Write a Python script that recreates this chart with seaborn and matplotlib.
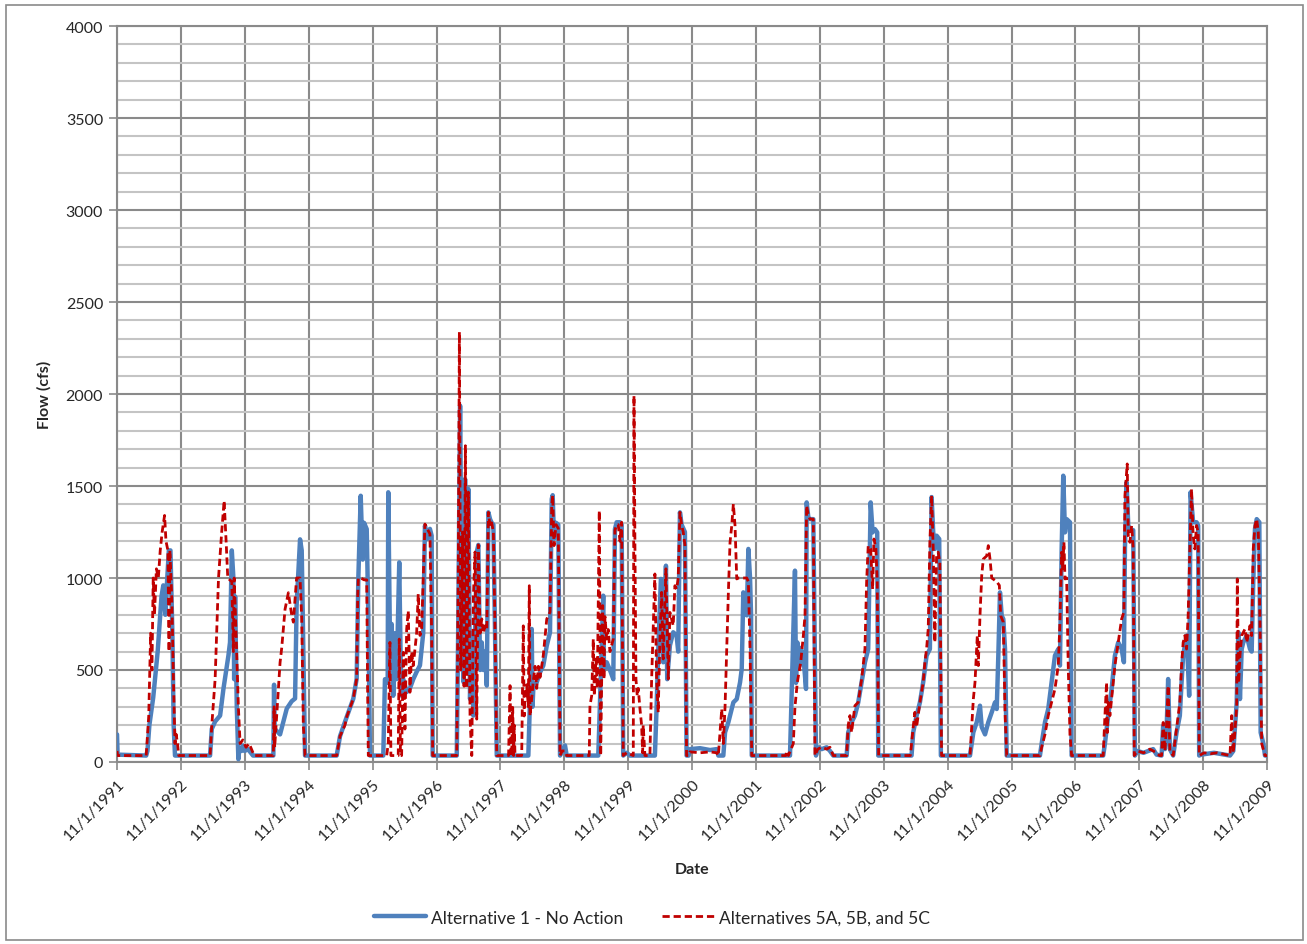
"""
plot.py
-------
Daily flow (cfs), Alternative 1 vs Alternatives 5A/5B/5C, WY1992-WY2009.
Saves the chart to out.png
"""

import numpy as np
import pandas as pd
import matplotlib
matplotlib.use("Agg")
import matplotlib.pyplot as plt
from matplotlib.lines import Line2D
from matplotlib.patches import Rectangle
import seaborn as sns

# ── Config ──────────────────────────────────────────────────────────────────
OUT_PATH  = "out.png"
BLUE      = "#4F81BD"
RED       = "#C00000"
GRID_MAJ  = "#8A8A8A"
GRID_MIN  = "#C4C4C4"

# ── Data (time as decimal year, flow in cfs) ────────────────────────────────
alt1_t = [
    1991.833, 1991.842, 1992.290, 1992.310, 1992.340, 1992.376, 1992.400, 1992.428, 1992.470,
    1992.506, 1992.530, 1992.558, 1992.590, 1992.620, 1992.645, 1992.670, 1992.700, 1992.720,
    1992.741,
    1993.288, 1993.315, 1993.367, 1993.445, 1993.497, 1993.575, 1993.600, 1993.628, 1993.653,
    1993.665, 1993.680, 1993.706, 1993.731, 1993.745, 1993.780, 1993.800, 1993.830, 1993.880,
    1993.960,
    1994.279, 1994.290, 1994.300, 1994.384, 1994.489, 1994.566, 1994.619, 1994.643, 1994.697,
    1994.723, 1994.748, 1994.775,
    1995.271, 1995.323, 1995.428, 1995.531, 1995.584, 1995.610, 1995.647, 1995.678, 1995.699,
    1995.741, 1995.766, 1995.792,
    1996.001, 1996.027, 1996.070, 1996.079, 1996.105, 1996.132, 1996.157, 1996.184, 1996.210,
    1996.251, 1996.273, 1996.288, 1996.314, 1996.367, 1996.418, 1996.470, 1996.523, 1996.575,
    1996.626, 1996.653, 1996.689, 1996.731, 1996.758, 1996.774,
    1997.149, 1997.174, 1997.201, 1997.227, 1997.253, 1997.279, 1997.305, 1997.331, 1997.357,
    1997.384, 1997.409, 1997.435, 1997.462, 1997.487, 1997.514, 1997.540, 1997.565, 1997.592,
    1997.619, 1997.644, 1997.670, 1997.696, 1997.722, 1997.748, 1997.775,
    1998.270, 1998.296, 1998.323, 1998.335, 1998.348, 1998.401, 1998.453, 1998.504, 1998.558,
    1998.609, 1998.636, 1998.651, 1998.672, 1998.703, 1998.739, 1998.766, 1998.800, 1998.844,
    1998.870,
    1999.365, 1999.381, 1999.403, 1999.443, 1999.454, 1999.497, 1999.548, 1999.600, 1999.626,
    1999.653, 1999.705, 1999.731, 1999.756, 1999.810, 1999.861,
    2000.252, 2000.279, 2000.304, 2000.346, 2000.382, 2000.425, 2000.445, 2000.487, 2000.539,
    2000.592, 2000.617, 2000.644, 2000.670, 2000.722, 2000.748, 2000.780, 2000.800,
    2000.957, 2001.113, 2001.218, 2001.243, 2001.321, 2001.348, 2001.400, 2001.478, 2001.531,
    2001.583, 2001.609, 2001.634, 2001.688, 2001.713, 2001.739, 2001.755, 2001.766,
    2002.365, 2002.443, 2002.459, 2002.480, 2002.511, 2002.533, 2002.574, 2002.616, 2002.626,
    2002.652, 2002.678, 2002.730, 2002.772, 2002.800, 2002.861, 2002.939, 2002.991, 2003.043,
    2003.253, 2003.277, 2003.330, 2003.382, 2003.434, 2003.487, 2003.539, 2003.590, 2003.628,
    2003.659, 2003.695, 2003.731, 2003.747,
    2004.269, 2004.295, 2004.348, 2004.400, 2004.451, 2004.504, 2004.556, 2004.583, 2004.608,
    2004.634, 2004.661, 2004.702, 2004.728,
    2005.182, 2005.234, 2005.287, 2005.338, 2005.365, 2005.417, 2005.468, 2005.522, 2005.573,
    2005.600, 2005.625, 2005.651, 2005.678, 2005.703, 2005.730, 2005.756,
    2006.277, 2006.304, 2006.356, 2006.407, 2006.460, 2006.512, 2006.564, 2006.590, 2006.617,
    2006.642, 2006.669, 2006.695, 2006.747, 2006.773,
    2007.268, 2007.295, 2007.346, 2007.400, 2007.451, 2007.503, 2007.556, 2007.592, 2007.608,
    2007.634, 2007.660, 2007.686, 2007.738, 2007.764, 2007.800, 2007.900, 2008.050, 2008.104,
    2008.182, 2008.207, 2008.234, 2008.260, 2008.285, 2008.312, 2008.364, 2008.417, 2008.468,
    2008.495, 2008.520, 2008.573, 2008.598, 2008.614, 2008.636, 2008.676, 2008.730, 2008.755,
    2008.771, 2008.800, 2009.000,
    2009.251, 2009.303, 2009.356, 2009.381, 2009.407, 2009.434, 2009.459, 2009.512, 2009.564,
    2009.590, 2009.615, 2009.642, 2009.669, 2009.710, 2009.731, 2009.773, 2009.799, 2009.833,
]
alt1_q = [
    150, 40, 35, 60, 200, 290, 350, 450, 600,
    777, 900, 960, 800, 1000, 1150, 1150, 700, 200,
    35,
    35, 180, 220, 252, 397, 578, 650, 1150, 1000,
    450, 900, 300, 15, 70, 60, 90, 60, 70,
    35,
    35, 420, 180, 150, 290, 330, 345, 850, 1210,
    1150, 600, 35,
    35, 140, 245, 344, 453, 1000, 1447, 1100, 1300,
    1266, 800, 35,
    35, 450, 430, 1466, 668, 750, 360, 700, 450,
    1085, 550, 360, 450, 380, 400, 450, 490, 525,
    700, 1284, 1212, 1267, 1230, 35,
    35, 800, 1937, 886, 435, 1538, 520, 1484, 342,
    700, 252, 700, 1141, 1180, 500, 650, 500, 600,
    415, 1357, 1320, 1300, 1290, 700, 35,
    35, 342, 723, 300, 400, 433, 487, 524, 632,
    704, 1429, 1450, 1212, 1300, 1290, 35, 60, 90,
    35,
    35, 200, 450, 904, 500, 542, 500, 450, 1266,
    1303, 1303, 1290, 35, 50, 35,
    35, 300, 600, 995, 542, 1067, 450, 633, 705,
    687, 600, 1357, 1290, 1250, 35, 35, 70,
    75, 65, 70, 35, 35, 161, 216, 324, 342,
    433, 505, 922, 797, 1158, 1000, 800, 35,
    35, 1040, 430, 650, 520, 620, 580, 397, 1411,
    1330, 1320, 1320, 35, 80, 70, 80, 60, 35,
    35, 161, 216, 252, 324, 433, 542, 614, 1411,
    1248, 1266, 1248, 35,
    35, 161, 252, 324, 433, 578, 614, 1440, 1250,
    1158, 1230, 1212, 35,
    35, 161, 216, 306, 190, 150, 216, 270, 324,
    288, 578, 922, 795, 777, 614, 35,
    35, 100, 216, 288, 433, 578, 614, 524, 1158,
    1556, 1248, 1320, 1303, 35,
    35, 100, 252, 397, 578, 650, 614, 542, 1158,
    1520, 1285, 1266, 1260, 35, 60, 50, 70, 40,
    35, 197, 70, 161, 451, 70, 35, 161, 252,
    433, 578, 687, 500, 360, 1466, 1303, 1303, 1285,
    35, 40, 50,
    35, 60, 324, 705, 342, 614, 650, 687, 614,
    600, 977, 1267, 1320, 1303, 160, 100, 35, 35,
]

alt5_t = [
    1991.833, 1991.842, 1992.290, 1992.330, 1992.360, 1992.380, 1992.400, 1992.420, 1992.450,
    1992.480, 1992.510, 1992.540, 1992.578, 1992.600, 1992.630, 1992.648, 1992.660, 1992.690,
    1992.720, 1992.741, 1992.760, 1992.780, 1992.800,
    1993.288, 1993.315, 1993.367, 1993.420, 1993.470, 1993.508, 1993.539, 1993.565, 1993.628,
    1993.653, 1993.665, 1993.695, 1993.731, 1993.758, 1993.800, 1993.850, 1993.900, 1993.960,
    1993.980,
    1994.279, 1994.290, 1994.300, 1994.384, 1994.410, 1994.462, 1994.514, 1994.566, 1994.592,
    1994.643, 1994.697, 1994.723, 1994.748, 1994.775,
    1995.271, 1995.323, 1995.400, 1995.428, 1995.531, 1995.584, 1995.600, 1995.610, 1995.647,
    1995.700, 1995.741, 1995.755, 1995.766,
    1996.054, 1996.079, 1996.105, 1996.120, 1996.235, 1996.251, 1996.270, 1996.288, 1996.314,
    1996.340, 1996.367, 1996.392, 1996.418, 1996.445, 1996.470, 1996.523, 1996.548, 1996.575,
    1996.601, 1996.626, 1996.653, 1996.689, 1996.731, 1996.758, 1996.774,
    1997.149, 1997.174, 1997.190, 1997.211, 1997.243, 1997.263, 1997.284, 1997.305, 1997.331,
    1997.357, 1997.384, 1997.409, 1997.435, 1997.462, 1997.487, 1997.514, 1997.540, 1997.565,
    1997.592, 1997.619, 1997.644, 1997.670, 1997.696, 1997.722, 1997.748, 1997.775,
    1997.960, 1997.983, 1998.000, 1998.010, 1998.025, 1998.040, 1998.050, 1998.061, 1998.166,
    1998.191, 1998.205, 1998.218, 1998.245, 1998.270, 1998.285, 1998.296, 1998.348, 1998.375,
    1998.401, 1998.427, 1998.453, 1998.504, 1998.558, 1998.609, 1998.636, 1998.651, 1998.672,
    1998.703, 1998.739, 1998.766, 1998.800, 1998.844, 1998.870,
    1999.224, 1999.235, 1999.262, 1999.287, 1999.303, 1999.329, 1999.350, 1999.381, 1999.403,
    1999.434, 1999.454, 1999.470, 1999.497, 1999.521, 1999.548, 1999.600, 1999.626, 1999.653,
    1999.678, 1999.705, 1999.731, 1999.756, 1999.810, 1999.913, 1999.924, 1999.939, 1999.955,
    1999.975, 1999.991, 2000.018, 2000.044, 2000.060, 2000.069, 2000.096,
    2000.174, 2000.201, 2000.226, 2000.252, 2000.279, 2000.304, 2000.331, 2000.357, 2000.382,
    2000.425, 2000.461, 2000.487, 2000.539, 2000.565, 2000.592, 2000.617, 2000.644, 2000.670,
    2000.695, 2000.722, 2000.748, 2000.780, 2000.800,
    2000.957, 2001.113, 2001.218, 2001.243, 2001.270, 2001.296, 2001.321, 2001.348, 2001.374,
    2001.400, 2001.426, 2001.453, 2001.478, 2001.504, 2001.531, 2001.556, 2001.634, 2001.688,
    2001.713, 2001.739, 2001.766,
    2002.300, 2002.313, 2002.340, 2002.417, 2002.443, 2002.480, 2002.533, 2002.574, 2002.600,
    2002.626, 2002.652, 2002.678, 2002.730, 2002.756, 2002.800, 2002.861, 2002.939, 2002.991,
    2003.043,
    2003.253, 2003.277, 2003.304, 2003.330, 2003.382, 2003.434, 2003.487, 2003.539, 2003.565,
    2003.590, 2003.628, 2003.659, 2003.680, 2003.711, 2003.731, 2003.753,
    2004.250, 2004.269, 2004.295, 2004.321, 2004.348, 2004.400, 2004.451, 2004.478, 2004.504,
    2004.530, 2004.556, 2004.583, 2004.608, 2004.634, 2004.661, 2004.686, 2004.712, 2004.739,
    2005.182, 2005.209, 2005.234, 2005.260, 2005.296, 2005.312, 2005.338, 2005.365, 2005.390,
    2005.443, 2005.468, 2005.495, 2005.522, 2005.600, 2005.641, 2005.662, 2005.703, 2005.730,
    2005.756,
    2006.277, 2006.304, 2006.356, 2006.407, 2006.460, 2006.512, 2006.564, 2006.590, 2006.617,
    2006.633, 2006.653, 2006.669, 2006.695, 2006.720, 2006.747, 2006.773,
    2007.268, 2007.295, 2007.321, 2007.331, 2007.346, 2007.373, 2007.425, 2007.451, 2007.503,
    2007.556, 2007.592, 2007.608, 2007.644, 2007.660, 2007.686, 2007.713, 2007.738, 2007.754,
    2007.800, 2007.900, 2008.000, 2008.104, 2008.150,
    2008.182, 2008.207, 2008.234, 2008.260, 2008.285, 2008.312, 2008.364, 2008.417, 2008.468,
    2008.495, 2008.520, 2008.547, 2008.573, 2008.598, 2008.625, 2008.651, 2008.676, 2008.703,
    2008.730, 2008.755, 2008.771, 2008.850, 2008.950, 2009.050,
    2009.251, 2009.278, 2009.303, 2009.356, 2009.365, 2009.387, 2009.407, 2009.434, 2009.486,
    2009.512, 2009.537, 2009.564, 2009.590, 2009.615, 2009.642, 2009.669, 2009.694, 2009.720,
    2009.747, 2009.799, 2009.833,
]
alt5_q = [
    60, 35, 35, 250, 700, 500, 1000, 800, 1050,
    1000, 1150, 1250, 1340, 1200, 1150, 600, 1150, 900,
    400, 100, 150, 100, 35,
    35, 200, 450, 1000, 1250, 1420, 1200, 1000, 980,
    600, 1000, 700, 300, 100, 120, 80, 100, 50,
    35,
    35, 300, 80, 540, 620, 830, 920, 800, 760,
    1000, 1000, 780, 200, 35,
    35, 140, 200, 245, 344, 453, 900, 1000, 1000,
    990, 990, 400, 35,
    35, 100, 650, 35, 35, 668, 35, 35, 596,
    179, 723, 822, 379, 600, 524, 700, 913, 688,
    720, 995, 1293, 1267, 1240, 700, 35,
    35, 1103, 2337, 500, 1250, 412, 1719, 400, 1467,
    233, 35, 900, 1141, 233, 1180, 700, 778, 700,
    740, 720, 1357, 1280, 1300, 1250, 720, 35,
    35, 415, 35, 35, 297, 35, 200, 35, 35,
    740, 250, 340, 420, 300, 958, 250, 440, 520,
    400, 520, 460, 580, 777, 815, 1393, 1450, 1176,
    1290, 1270, 35, 60, 60, 35,
    35, 306, 360, 668, 360, 560, 400, 1366, 35,
    850, 450, 790, 668, 720, 600, 668, 1260, 1290,
    1290, 1200, 1303, 35, 50, 35, 1991, 1176, 450,
    360, 400, 290, 200, 50, 200, 35,
    35, 451, 723, 1022, 451, 270, 668, 922, 560,
    1050, 451, 813, 741, 958, 940, 1000, 1357, 1290,
    1250, 1180, 35, 35, 55,
    50, 55, 50, 35, 161, 288, 100, 300, 614,
    922, 1194, 1285, 1402, 1285, 995, 1000, 1000, 1000,
    980, 614, 35,
    35, 60, 35, 100, 300, 433, 542, 687, 795,
    1393, 1340, 1320, 1320, 35, 70, 80, 70, 80,
    35,
    35, 200, 252, 161, 306, 324, 450, 614, 977,
    1175, 1158, 940, 1212, 1158, 977, 35,
    35, 100, 190, 270, 190, 324, 433, 542, 614,
    723, 1194, 1448, 1158, 650, 1120, 1140, 1085, 35,
    35, 190, 342, 433, 687, 524, 795, 1013, 1103,
    1120, 1176, 1103, 1000, 980, 960, 795, 760, 270,
    35,
    35, 80, 150, 252, 324, 397, 524, 759, 1140,
    1050, 1194, 995, 1000, 520, 150, 35,
    35, 252, 433, 160, 324, 252, 433, 524, 650,
    777, 815, 1448, 1620, 1230, 1194, 1285, 1158, 35,
    60, 50, 70, 50, 35,
    35, 215, 60, 200, 415, 60, 35, 180, 324,
    524, 650, 687, 614, 795, 1158, 1484, 1230, 1158,
    1285, 1248, 35, 50, 45, 50,
    35, 252, 50, 300, 995, 430, 578, 687, 723,
    650, 687, 741, 687, 1158, 1285, 1320, 1248, 759,
    100, 35, 35,
]

TICK_LABELS = [
    "11/1/1991", "11/1/1992", "11/1/1993", "11/1/1994", "11/1/1995", "11/1/1996",
    "11/1/1997", "11/1/1998", "11/1/1999", "11/1/2000", "11/1/2001", "11/1/2002",
    "11/1/2003", "11/1/2004", "11/1/2005", "11/1/2006", "11/1/2007", "11/1/2008",
    "11/1/2009",
]
SERIES_NAMES = ["Alternative 1 - No Action", "Alternatives 5A, 5B, and 5C"]


def to_dates(dec_years):
    """Decimal years -> timestamps."""
    out = []
    for y in dec_years:
        yr = int(y)
        start = pd.Timestamp(yr, 1, 1)
        out.append(start + pd.Timedelta(days=(y - yr) * 365.25))
    return out


def main():
    sns.set_style("white")
    plt.rcParams["font.family"] = ["Lato", "DejaVu Sans"]

    df1 = pd.DataFrame({"date": to_dates(alt1_t), "flow": alt1_q})
    df5 = pd.DataFrame({"date": to_dates(alt5_t), "flow": alt5_q})

    fig = plt.figure(figsize=(13.07, 9.45), dpi=100)
    ax = fig.add_axes([0.0895, 0.1926, 0.8800, 0.7788])

    # ── lines ───────────────────────────────────────────────────────────
    sns.lineplot(data=df1, x="date", y="flow", ax=ax, color=BLUE, linewidth=3.2,
                 estimator=None, sort=False, legend=False, zorder=3)
    sns.lineplot(data=df5, x="date", y="flow", ax=ax, color=RED, linewidth=2.0,
                 estimator=None, sort=False, legend=False, zorder=4)
    ax.lines[-1].set_dashes([2.6, 1.4])

    # ── axes / grid ─────────────────────────────────────────────────────
    tick_dates = pd.to_datetime(TICK_LABELS, format="%m/%d/%Y")
    ax.set_xlim(tick_dates[0], tick_dates[-1])
    ax.set_ylim(0, 4000)
    ax.set_xticks(tick_dates)
    ax.set_xticklabels(TICK_LABELS, rotation=45, ha="right", rotation_mode="anchor",
                       fontsize=11.5)
    ax.set_yticks(np.arange(0, 4001, 500))
    ax.set_yticks(np.arange(0, 4001, 100), minor=True)
    ax.tick_params(axis="y", which="major", length=6, width=1.2, color=GRID_MAJ,
                   labelsize=11.5, pad=4, direction="out", left=True)
    ax.tick_params(axis="y", which="minor", length=0)
    ax.tick_params(axis="x", which="major", length=6, width=1.2, color=GRID_MAJ,
                   pad=4, direction="out", bottom=True)

    ax.grid(which="minor", axis="y", color=GRID_MIN, linewidth=1.5, zorder=0)
    ax.grid(which="major", axis="y", color=GRID_MAJ, linewidth=1.5, zorder=1)
    ax.grid(which="major", axis="x", color=GRID_MAJ, linewidth=1.5, zorder=1)
    ax.set_axisbelow(True)
    for sp in ax.spines.values():
        sp.set_color(GRID_MAJ)
        sp.set_linewidth(1.5)

    ax.set_xlabel("Date", fontsize=11.5, fontweight="bold", labelpad=14)
    ax.set_ylabel("Flow (cfs)", fontsize=11.5, fontweight="bold", labelpad=10)

    # ── legend ──────────────────────────────────────────────────────────
    handles = [
        Line2D([0], [0], color=BLUE, linewidth=3.2),
        Line2D([0], [0], color=RED, linewidth=2.0, dashes=[2.6, 1.4]),
    ]
    fig.legend(handles, SERIES_NAMES, loc="center", bbox_to_anchor=(0.499, 0.028),
               ncol=2, frameon=False, fontsize=12.5, handlelength=3.0,
               handletextpad=0.3, columnspacing=2.2)

    # outer chart border
    fig.patches.append(Rectangle((0.0046, 0.004), 0.9925, 0.9895, transform=fig.transFigure,
                                 fill=False, edgecolor="#8A8A8A", linewidth=1.2))

    fig.savefig(OUT_PATH, dpi=100)
    plt.close(fig)


if __name__ == "__main__":
    main()
